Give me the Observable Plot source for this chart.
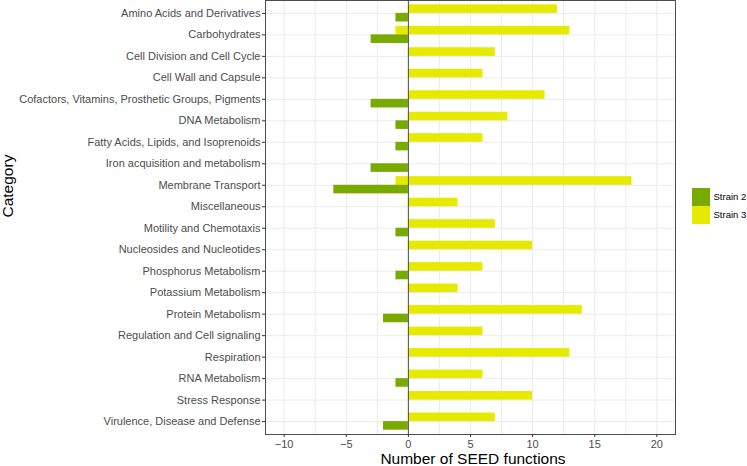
<!DOCTYPE html>
<html>
<head>
<meta charset="utf-8">
<script src="https://cdn.jsdelivr.net/npm/d3@7"></script>
<script src="https://cdn.jsdelivr.net/npm/@observablehq/plot@0.6"></script>
<style>
  html, body { margin: 0; padding: 0; background: #fff; }
  #wrap { position: relative; width: 747px; height: 466px; font-family: "Liberation Sans", Arial, sans-serif; }
  #legend { position: absolute; left: 692px; top: 188px; }
  .item { display: flex; align-items: center; height: 17.8px; }
  .sw { width: 17.5px; height: 17.8px; }
  .lab { margin-left: 4px; font-size: 9.5px; color: #000; white-space: nowrap; }
</style>
</head>
<body>
<div id="wrap"><div id="legend"></div></div>
<script>
const categories = [
  "Amino Acids and Derivatives",
  "Carbohydrates",
  "Cell Division and Cell Cycle",
  "Cell Wall and Capsule",
  "Cofactors, Vitamins, Prosthetic Groups, Pigments",
  "DNA Metabolism",
  "Fatty Acids, Lipids, and Isoprenoids",
  "Iron acquisition and metabolism",
  "Membrane Transport",
  "Miscellaneous",
  "Motility and Chemotaxis",
  "Nucleosides and Nucleotides",
  "Phosphorus Metabolism",
  "Potassium Metabolism",
  "Protein Metabolism",
  "Regulation and Cell signaling",
  "Respiration",
  "RNA Metabolism",
  "Stress Response",
  "Virulence, Disease and Defense"
];
const strain2 = [-1, -3, 0, 0, -3, -1, -1, -3, -6, 0, -1, 0, -1, 0, -2, 0, 0, -1, 0, -2];
const strain3 = [12, 13, 7, 6, 11, 8, 6, 0, 18, 4, 7, 10, 6, 4, 14, 6, 13, 6, 10, 7];
const strain3Neg = [0, -1, 0, 0, 0, 0, 0, 0, -1, 0, 0, 0, 0, 0, 0, 0, 0, 0, 0, 0];
const strains = ["Strain 2", "Strain 3"];
const strainColors = ["#78aa00", "#e6ea00"];
const xTicks = [-10, -5, 0, 5, 10, 15, 20];
const xGrid = [-10, -7.5, -5, -2.5, 0, 2.5, 5, 7.5, 10, 12.5, 15, 17.5, 20];
const xLabel = "Number of SEED functions";
const yLabel = "Category";

const W = 747, H = 466, mL = 265, mR = 72, mT = 0, mB = 32;
const step = (H - mT - mB) / (categories.length + 0.2);
const half = step * 0.4;

const rows2 = categories.map((c, i) => ({category: c, strain: "Strain 2", value: strain2[i]})).filter(d => d.value !== 0);
const rows3 = categories.map((c, i) => ({category: c, strain: "Strain 3", value: strain3[i]})).filter(d => d.value !== 0)
  .concat(categories.map((c, i) => ({category: c, strain: "Strain 3", value: strain3Neg[i]})).filter(d => d.value !== 0));

const chart = Plot.plot({
  width: W, height: H,
  marginLeft: mL, marginRight: mR, marginTop: mT, marginBottom: mB,
  style: {fontFamily: "'Liberation Sans', Arial, sans-serif", fontSize: "11px", color: "#4d4d4d", background: "white"},
  x: {domain: [-11.5, 21.5]},
  y: {domain: categories, paddingInner: 0.2, paddingOuter: 0.2, round: false},
  color: {domain: strains, range: strainColors},
  marks: [
    Plot.gridX(xGrid, {stroke: "#ebebeb", strokeOpacity: 1}),
    Plot.gridY({stroke: "#ebebeb", strokeOpacity: 1}),
    Plot.barX(rows3, {x: "value", y: "category", fill: "strain", insetBottom: half}),
    Plot.barX(rows2, {x: "value", y: "category", fill: "strain", insetTop: half}),
    Plot.ruleX([0], {stroke: "#4d4d4d"}),
    Plot.frame({stroke: "#4d4d4d"}),
    Plot.axisX(xTicks, {tickSize: 3, tickPadding: 3, stroke: "#333", fill: "#4d4d4d", fontSize: 11, label: null,
      tickFormat: d => d < 0 ? "\u2212" + Math.abs(d) : String(d)}),
    Plot.axisY({tickSize: 3, tickPadding: 2, stroke: "#333", fill: "#4d4d4d", fontSize: 11, label: null}),
    Plot.text([xLabel], {text: d => d, frameAnchor: "bottom", dy: 24.5, dx: 2.5, fontSize: 15.5, fill: "black", lineAnchor: "middle"}),
    Plot.text([yLabel], {text: d => d, frameAnchor: "left", dx: -257.5, rotate: -90, fontSize: 15.5, fill: "black", lineAnchor: "middle"})
  ]
});
document.getElementById("wrap").prepend(chart);

const legend = document.getElementById("legend");
strains.forEach((s, i) => {
  const item = document.createElement("div");
  item.className = "item";
  const sw = document.createElement("div");
  sw.className = "sw";
  sw.style.background = strainColors[i];
  const lab = document.createElement("span");
  lab.className = "lab";
  lab.textContent = s;
  item.appendChild(sw);
  item.appendChild(lab);
  legend.appendChild(item);
});
</script>
</body>
</html>
